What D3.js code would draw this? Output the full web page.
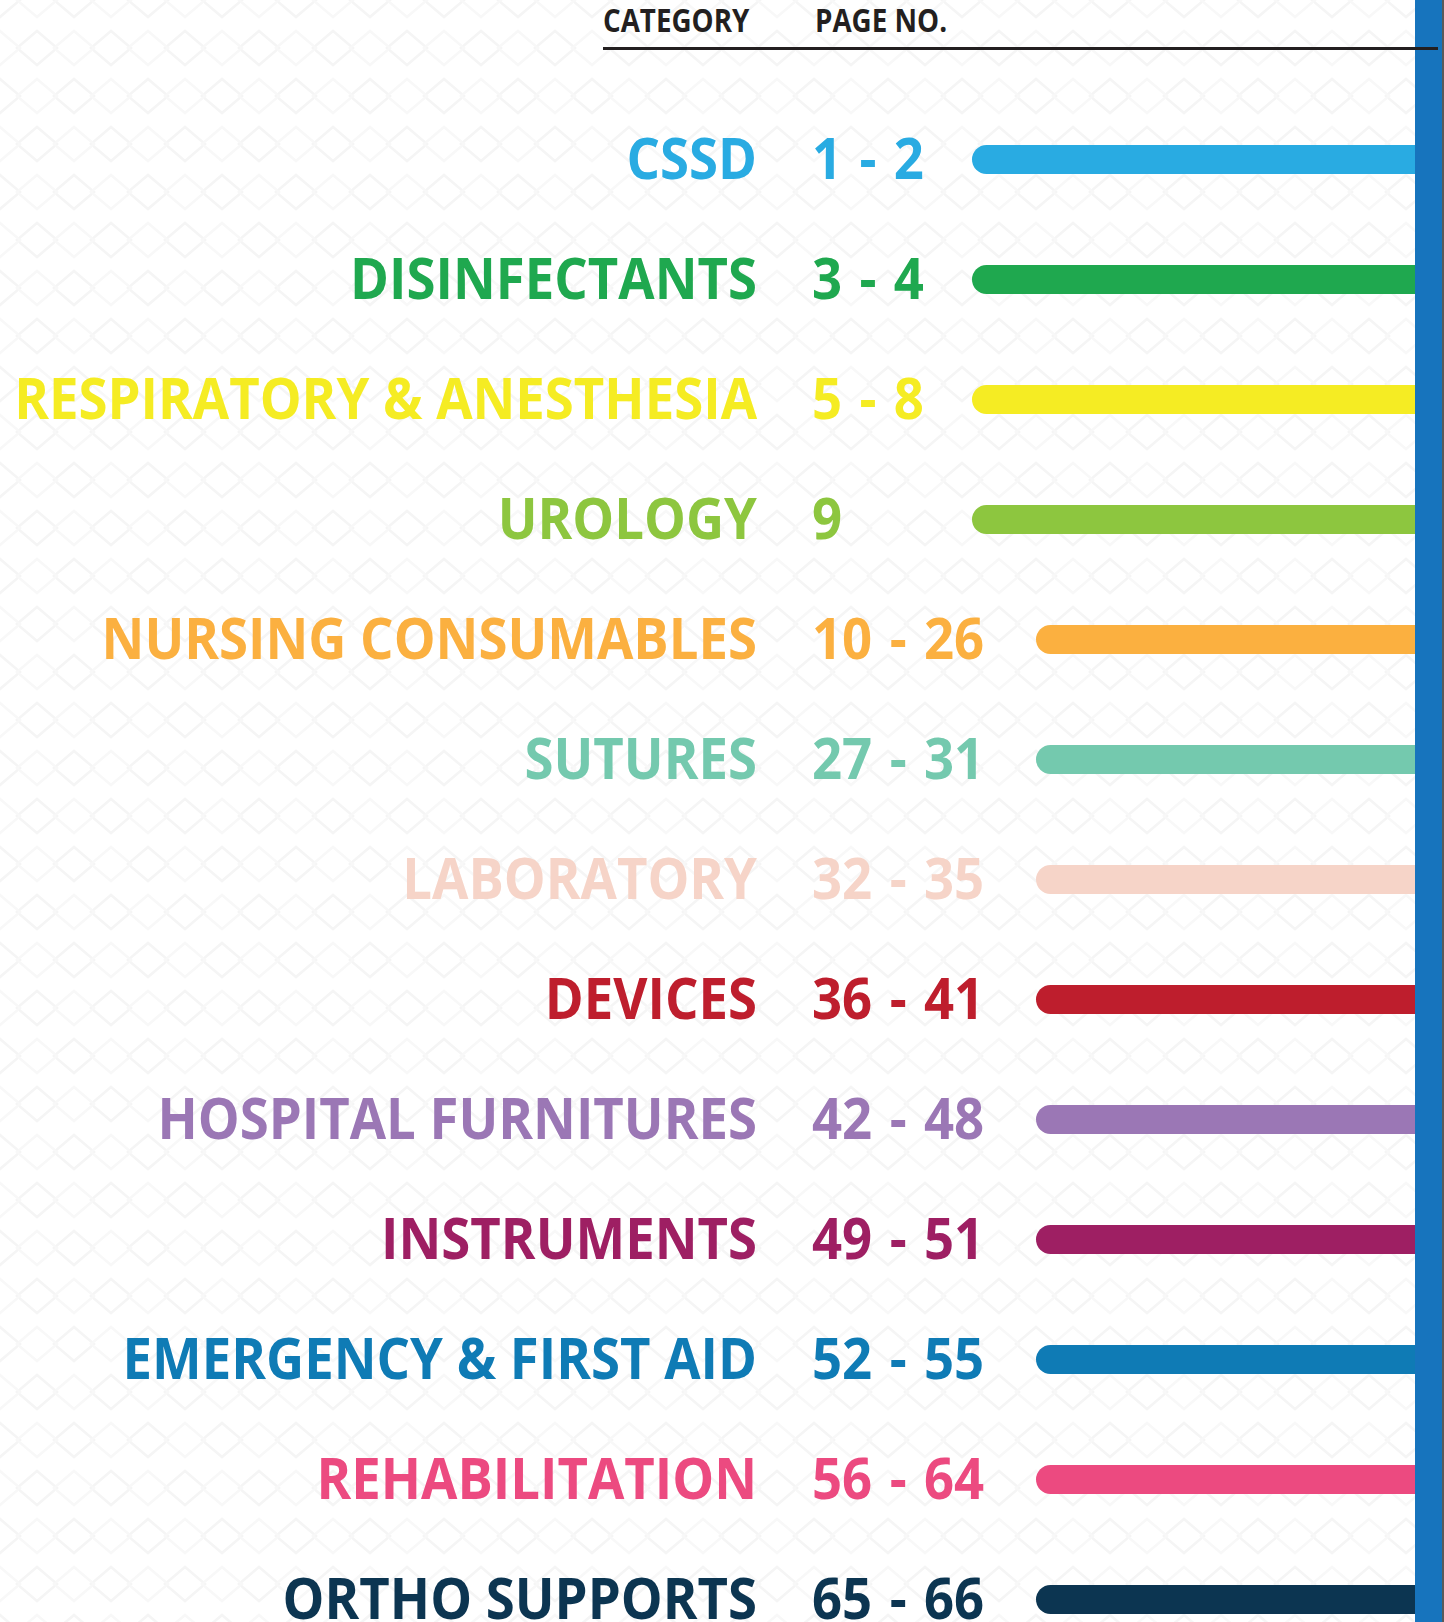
<!DOCTYPE html>
<html lang="en">

<head>
    <meta charset="UTF-8">
    <title>Catalogue index</title>
    <style>
        html, body { margin: 0; padding: 0; background: #fff; }
        svg { display: block; }
    </style>
</head>

<body>
    <div id="wrapper"></div>

    <script src="https://d3js.org/d3.v7.min.js"></script>
    <script>
        // 資料
        const categories = ['CSSD', 'DISINFECTANTS', 'RESPIRATORY & ANESTHESIA', 'UROLOGY',
            'NURSING CONSUMABLES', 'SUTURES', 'LABORATORY', 'DEVICES', 'HOSPITAL FURNITURES',
            'INSTRUMENTS', 'EMERGENCY & FIRST AID', 'REHABILITATION', 'ORTHO SUPPORTS'];
        const pageStart = [1, 3, 5, 9, 10, 27, 32, 36, 42, 49, 52, 56, 65];
        const pageEnd = [2, 4, 8, 9, 26, 31, 35, 41, 48, 51, 55, 64, 66];
        const colors = ['#29abe2', '#1fa84f', '#f5ec23', '#8dc63f', '#fbb040', '#74c9ae', '#f6d4c8',
            '#be1e2d', '#9b77b5', '#9e1f63', '#0f7bb5', '#ec4a80', '#0c3551'];
        const headers = ['CATEGORY', 'PAGE NO.'];

        const width = 1444,
            height = 1622,
            catRight = 757,
            pageLeft = 812,
            barH = 29,
            blueX = 1415;

        const svg = d3.select('#wrapper').append('svg')
            .attr('width', width)
            .attr('height', height);

        // 背景菱形花紋
        const defs = svg.append('defs');
        const pat = defs.append('pattern')
            .attr('id', 'lattice')
            .attr('patternUnits', 'userSpaceOnUse')
            .attr('width', 74).attr('height', 96);
        const dPath = (cx, cy) => `M${cx - 20},${cy} L${cx},${cy - 17} L${cx + 20},${cy} L${cx},${cy + 17} Z`;
        [[0, 0], [74, 0], [37, 48], [0, 96], [74, 96], [0, 48], [74, 48], [37, 0], [37, 96]]
            .forEach((p, k) => pat.append('path').attr('d', dPath(p[0], p[1]))
                .attr('fill', 'none')
                .attr('stroke', k < 5 ? '#f5f5f5' : '#f8f8f8')
                .attr('stroke-width', 2.5));

        svg.append('rect').attr('width', width).attr('height', height).attr('fill', '#fff');
        svg.append('rect').attr('width', blueX).attr('height', height).attr('fill', 'url(#lattice)');

        const yScale = d3.scalePoint()
            .domain(categories)
            .range([159.5, 1599.5]);

        const fontFam = "'Open Sans', 'Noto Sans', sans-serif";
        const fontSize = 57;

        // 先量字寬，算出水平壓縮比例 (原圖字型較窄)
        const probe = svg.append('text')
            .style('font-family', fontFam).style('font-weight', 700)
            .style('font-size', fontSize + 'px')
            .text(categories[2]);
        const sx = 743 / probe.node().getComputedTextLength();
        probe.text(headers[0]).style('font-size', '33px');
        const hsx = 151 / probe.node().getComputedTextLength();
        probe.remove();

        const pageText = i => pageStart[i] === pageEnd[i] ? `${pageStart[i]}` : `${pageStart[i]} - ${pageEnd[i]}`;
        const barX = i => pageEnd[i] < 10 ? 972 : 1036;

        // 色條
        svg.append('g').attr('class', 'bars')
            .selectAll('rect')
            .data(categories)
            .enter()
            .append('rect')
            .attr('x', (d, i) => barX(i))
            .attr('y', d => yScale(d) - barH / 2)
            .attr('width', (d, i) => 1440 - barX(i))
            .attr('height', barH)
            .attr('rx', barH / 2)
            .attr('fill', (d, i) => colors[i]);

        // 類別文字
        svg.append('g').attr('class', 'cats')
            .selectAll('text')
            .data(categories)
            .enter()
            .append('text')
            .attr('transform', d => `translate(${catRight},${yScale(d) + fontSize * 0.35}) scale(${sx},1)`)
            .attr('text-anchor', 'end')
            .style('font-family', fontFam).style('font-weight', 700)
            .style('font-size', fontSize + 'px')
            .attr('fill', (d, i) => colors[i])
            .text(d => d);

        // 頁碼
        svg.append('g').attr('class', 'pages')
            .selectAll('text')
            .data(categories)
            .enter()
            .append('text')
            .attr('transform', d => `translate(${pageLeft},${yScale(d) + fontSize * 0.35}) scale(${sx},1)`)
            .style('font-family', fontFam).style('font-weight', 700)
            .style('font-size', fontSize + 'px')
            .style('word-spacing', '4px')
            .attr('fill', (d, i) => colors[i])
            .text((d, i) => pageText(i));

        // 右側藍條
        svg.append('rect')
            .attr('x', blueX).attr('y', 0)
            .attr('width', 27).attr('height', height)
            .attr('fill', '#1774bd');
        svg.append('rect')
            .attr('x', 1442).attr('y', 0)
            .attr('width', 2).attr('height', height)
            .attr('fill', '#5a5a5a');

        // 表頭
        const head = svg.append('g').attr('class', 'header');
        head.selectAll('text')
            .data(headers)
            .enter()
            .append('text')
            .attr('transform', (d, i) => `translate(${i === 0 ? 603 : 815},32) scale(${hsx},1)`)
            .style('font-family', fontFam).style('font-weight', 700)
            .style('font-size', '32px')
            .attr('fill', '#231f20')
            .text(d => d);
        head.append('line')
            .attr('x1', 603).attr('x2', 1438)
            .attr('y1', 48.5).attr('y2', 48.5)
            .attr('stroke', '#231f20').attr('stroke-width', 3);
    </script>
</body>

</html>
